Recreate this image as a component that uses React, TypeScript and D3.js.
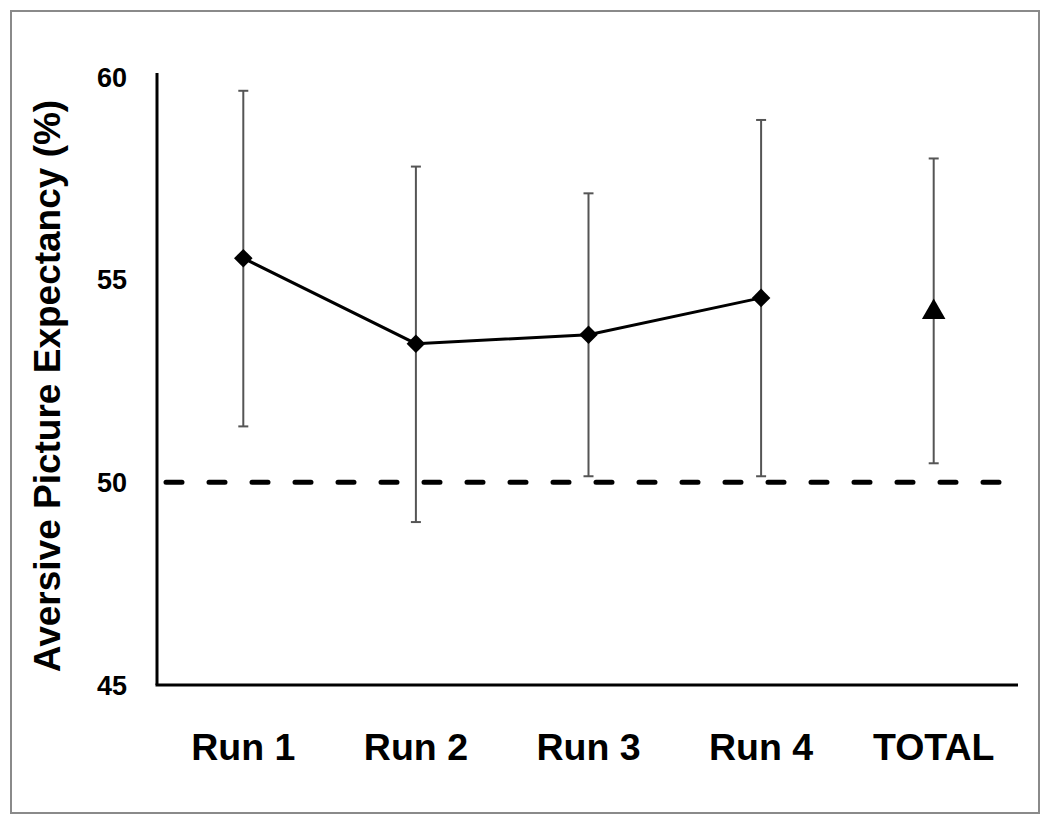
import React from "react";
import * as d3 from "d3";

const categories = ["Run 1", "Run 2", "Run 3", "Run 4", "TOTAL"];
const runMeans = [55.53, 53.42, 53.64, 54.55];
const runUpper = [59.66, 57.79, 57.13, 58.94];
const runLower = [51.38, 49.02, 50.15, 50.15];
const totalMean = 54.2;
const totalUpper = 57.99;
const totalLower = 50.47;
const yTicks = [45, 50, 55, 60];
const chanceLevel = 50;

const W = 1050;
const H = 827;
const left = 157;
const right = 1020;
const top = 77;
const bottom = 685;

export default function App() {
  const x = d3.scaleBand<string>().domain(categories).range([left, right]);
  const y = d3.scaleLinear().domain([45, 60]).range([bottom, top]);
  const cx = (c: string) => (x(c) as number) + x.bandwidth() / 2;
  const runs = categories.slice(0, 4);
  const line = d3
    .line<number>()
    .x((_, i) => cx(runs[i]))
    .y((d) => y(d));
  const diamond = d3.symbol().type(d3.symbolDiamond2).size(220)();
  const tri = d3.symbol().type(d3.symbolTriangle).size(240)();
  const font = "'Liberation Sans', Arial, sans-serif";

  const bars = [
    ...runs.map((c, i) => ({ c, lo: runLower[i], hi: runUpper[i] })),
    { c: "TOTAL", lo: totalLower, hi: totalUpper },
  ];

  return (
    <svg width={W} height={H} style={{ position: "absolute", left: 0, top: 0 }}>
      <rect x={0} y={0} width={W} height={H} fill="#fff" />
      <rect x={11} y={11} width={1028} height={802} fill="none" stroke="#8a8a8a" strokeWidth={2} />
      {/* dashed chance line */}
      <line
        x1={166}
        x2={1016}
        y1={y(chanceLevel)}
        y2={y(chanceLevel)}
        stroke="#000"
        strokeWidth={5}
        strokeDasharray="16 27"
        strokeLinecap="round"
      />
      {/* axes */}
      <line x1={left} x2={left} y1={top - 4} y2={bottom} stroke="#000" strokeWidth={3} />
      <line x1={left - 1.5} x2={1018} y1={bottom} y2={bottom} stroke="#000" strokeWidth={3} />
      {yTicks.map((t) => (
        <text
          key={t}
          x={127}
          y={y(t)}
          dy="0.36em"
          textAnchor="end"
          fontFamily={font}
          fontWeight="bold"
          fontSize={27}
          fill="#000"
        >
          {t}
        </text>
      ))}
      {categories.map((c) => (
        <text
          key={c}
          x={cx(c)}
          y={760}
          textAnchor="middle"
          fontFamily={font}
          fontWeight="bold"
          fontSize={37.5}
          fill="#000"
        >
          {c}
        </text>
      ))}
      <text
        transform={`translate(60,386) rotate(-90)`}
        textAnchor="middle"
        fontFamily={font}
        fontWeight="bold"
        fontSize={37}
        fill="#000"
      >
        Aversive Picture Expectancy (%)
      </text>
      {/* error bars */}
      {bars.map((b) => (
        <g key={b.c} stroke="#555" strokeWidth={2}>
          <line x1={cx(b.c)} x2={cx(b.c)} y1={y(b.hi)} y2={y(b.lo)} />
          <line x1={cx(b.c) - 5} x2={cx(b.c) + 5} y1={y(b.hi)} y2={y(b.hi)} />
          <line x1={cx(b.c) - 5} x2={cx(b.c) + 5} y1={y(b.lo)} y2={y(b.lo)} />
        </g>
      ))}
      <path d={line(runMeans) as string} fill="none" stroke="#000" strokeWidth={3} />
      {runMeans.map((v, i) => (
        <path key={i} d={diamond as string} transform={`translate(${cx(runs[i])},${y(v)})`} fill="#000" />
      ))}
      <path d={tri as string} transform={`translate(${cx("TOTAL")},${y(totalMean)})`} fill="#000" />
    </svg>
  );
}
